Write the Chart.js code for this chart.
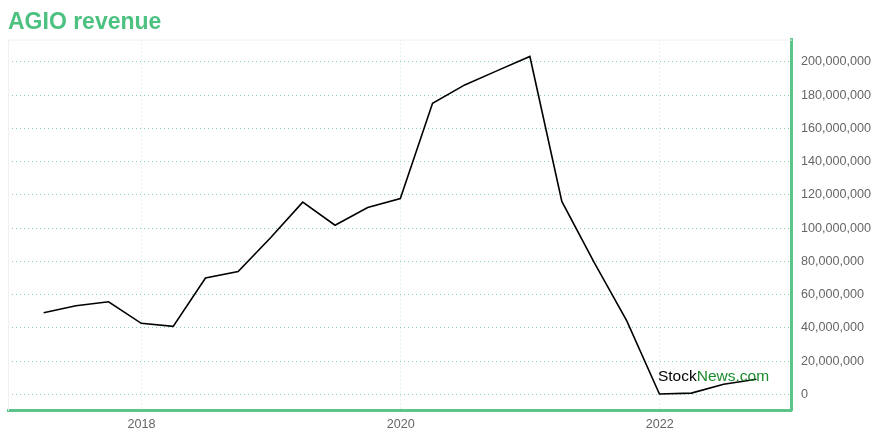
<!DOCTYPE html>
<html>
<head>
<meta charset="utf-8">
<script src="https://cdn.jsdelivr.net/npm/chart.js@4"></script>
<style>
  html, body { margin: 0; padding: 0; background: #fff; }
  #wrap { width: 880px; height: 440px; }
</style>
</head>
<body>
<div id="wrap"><canvas id="chart"></canvas></div>
<script>
// quarterly revenue
const quarters = [
  '2017-03-31', '2017-06-30', '2017-09-30', '2017-12-31',
  '2018-03-31', '2018-06-30', '2018-09-30', '2018-12-31',
  '2019-03-31', '2019-06-30', '2019-09-30', '2019-12-31',
  '2020-03-31', '2020-06-30', '2020-09-30', '2020-12-31',
  '2021-03-31', '2021-06-30', '2021-09-30', '2021-12-31',
  '2022-03-31', '2022-06-30', '2022-09-30'
];
const revenue = [
  49.2e6, 53.4e6, 55.8e6, 42.8e6,
  41.0e6, 70.1e6, 73.9e6, 94.4e6,
  115.7e6, 101.8e6, 112.5e6, 117.9e6,
  175.1e6, 186.2e6, 194.8e6, 203.3e6,
  116.1e6, 79.4e6, 44.3e6, 0.3e6,
  0.85e6, 6.2e6, 9.2e6
];
const yearTicks = [2018, 2020, 2022];
const valueTicks = [0, 20e6, 40e6, 60e6, 80e6, 100e6, 120e6, 140e6, 160e6, 180e6, 200e6];

const GREEN = '#4cc180';
const FONT = "'Liberation Sans', Arial, Helvetica, sans-serif";

// date string -> fractional year, so a plain linear axis can stand in for time
function toYear(s) {
  const [y, m, d] = s.split('-').map(Number);
  const start = Date.UTC(y, 0, 1), end = Date.UTC(y + 1, 0, 1);
  return y + (Date.UTC(y, m - 1, d) - start) / (end - start);
}

const points = quarters.map((q, i) => ({ x: toYear(q), y: revenue[i] }));

// 5% breathing room on both axes
const xs = points.map(p => p.x);
const xPad = (Math.max(...xs) - Math.min(...xs)) * 0.05;
const yPad = (Math.max(...revenue) - Math.min(...revenue)) * 0.05;

const frame = {
  id: 'frame',
  beforeDatasetsDraw(chart) {
    const { ctx, chartArea: a } = chart;
    ctx.save();
    ctx.strokeStyle = '#f0f0f0';
    ctx.lineWidth = 1;
    ctx.beginPath();
    ctx.moveTo(a.left + 0.5, a.bottom);
    ctx.lineTo(a.left + 0.5, a.top + 0.5);
    ctx.lineTo(a.right, a.top + 0.5);
    ctx.stroke();
    ctx.restore();
  }
};

const watermark = {
  id: 'watermark',
  afterDatasetsDraw(chart) {
    const { ctx, chartArea: a } = chart;
    ctx.save();
    ctx.font = '15.5px ' + FONT;
    ctx.textBaseline = 'alphabetic';
    const x = a.right - 134, y = a.bottom - 30;
    ctx.fillStyle = '#000';
    ctx.fillText('Stock', x, y);
    ctx.fillStyle = '#1b8a2c';
    ctx.fillText('News.com', x + ctx.measureText('Stock').width, y);
    ctx.restore();
  }
};

new Chart(document.getElementById('chart'), {
  type: 'line',
  data: {
    datasets: [{
      data: points,
      borderColor: '#000',
      borderWidth: 1.6,
      pointRadius: 0,
      tension: 0,
      fill: false
    }]
  },
  options: {
    responsive: true,
    maintainAspectRatio: false,
    animation: false,
    layout: { padding: { left: 8, right: 0, top: 0, bottom: 2 } },
    plugins: {
      legend: { display: false },
      tooltip: { enabled: false },
      title: {
        display: true,
        text: 'AGIO revenue',
        align: 'start',
        color: GREEN,
        font: { family: FONT, size: 23, weight: 'bold' },
        padding: { top: 9, bottom: 3 }
      }
    },
    scales: {
      x: {
        type: 'linear',
        min: Math.min(...xs) - xPad,
        max: Math.max(...xs) + xPad,
        afterBuildTicks: axis => { axis.ticks = yearTicks.map(v => ({ value: v })); },
        ticks: {
          color: '#666',
          font: { family: FONT, size: 12.6 },
          padding: 6,
          maxRotation: 0,
          callback: v => String(v)
        },
        grid: {
          color: 'rgba(76,193,128,0.3)',
          lineWidth: 1,
          drawTicks: false
        },
        border: { display: true, color: '#5cc489', width: 3, dash: [1, 3] }
      },
      y: {
        position: 'right',
        min: Math.min(...revenue) - yPad,
        max: Math.max(...revenue) + yPad,
        afterBuildTicks: axis => { axis.ticks = valueTicks.map(v => ({ value: v })); },
        ticks: {
          color: '#666',
          font: { family: FONT, size: 12.6 },
          padding: 9,
          callback: v => v.toLocaleString('en-US')
        },
        grid: {
          color: 'rgba(76,193,128,0.7)',
          lineWidth: 1,
          drawTicks: false
        },
        border: { display: true, color: '#5cc489', width: 3, dash: [1, 3] }
      }
    }
  },
  plugins: [frame, watermark]
});
</script>
</body>
</html>
